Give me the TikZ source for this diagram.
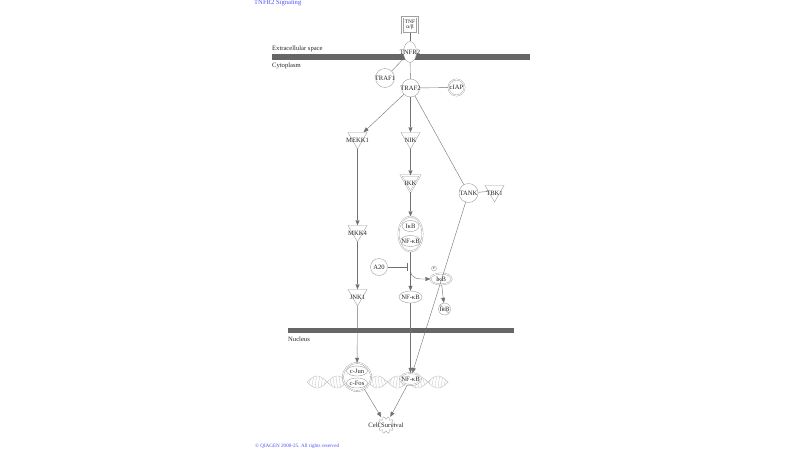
\documentclass[tikz,border=0pt]{standalone}
\usepackage{fontspec}
\setmainfont{Liberation Serif}
\usepackage{xcolor}
\usepackage{tikz}
\usetikzlibrary{shapes,arrows,positioning,calc,arrows.meta}

\definecolor{membgray}{HTML}{666666}
\definecolor{linegray}{HTML}{707070}
\definecolor{molgray}{HTML}{A0A0A0}
\definecolor{dnagray}{HTML}{BDBDBD}
\definecolor{qblue}{HTML}{5050FF}

\begin{document}
\begin{tikzpicture}[x=1pt,y=-1pt,
    txt/.style={font=\fontsize{6.6}{7}\selectfont, text=black!85, inner sep=0pt, align=center},
    lbl/.style={label={[txt]center:#1}},
    trilbl/.style={label={[txt, yshift=-2.5pt]center:#1}},
    circ/.style={circle, draw=molgray, fill=white, inner sep=0pt, minimum size=#1},
    circ/.default=18pt,
    dcirc/.style={circ=#1, double=white, double distance=0.8pt},
    dcirc/.default=16pt,
    oval/.style n args={2}{ellipse, draw=molgray, fill=white, inner sep=0pt, minimum width=#1, minimum height=#2},
    tri/.style={regular polygon, regular polygon sides=3, shape border rotate=180, draw=molgray, fill=white, inner sep=0pt, minimum size=22pt},
    act/.style={draw=linegray, -{Triangle[length=5pt,width=4pt]}},
    bind/.style={draw=linegray},
    inh/.style={draw=linegray, -{Bar[width=8pt]}},
    memb/.style={fill=membgray, draw=none}]

    \useasboundingbox (0,0) rectangle (800,450);

    % title and membranes
    \node[txt, text=qblue, anchor=north west] (title) at (254,0) {TNFR2 Signaling};
    \fill[memb] (272,54) rectangle (530,59.5);
    \node[txt, anchor=base west] (extra) at (272,50.5) {Extracellular space};
    \node[txt, anchor=base west] (cyto) at (272,67) {Cytoplasm};
    \fill[memb] (288,327.5) rectangle (514,333);
    \node[txt, anchor=base west] (nucl) at (288,341) {Nucleus};

    % DNA strand
    \draw[dnagray, line width=0.4pt] plot[domain=307:448, samples=120] (\x, {382+6*sin(8.935*(\x-307))});
    \draw[dnagray, line width=0.4pt] plot[domain=307:448, samples=120] (\x, {382-6*sin(8.935*(\x-307))});
    \foreach \h in {309,312,...,447}
        \draw[dnagray, line width=0.3pt] (\h, {382+5.5*sin(8.935*(\h-307))}) -- (\h+1.5, {382-5.5*sin(8.935*(\h+1.5-307))});

    % receptor
    \node[rectangle, draw=molgray, line width=0.6pt, fill=white, double=white, double distance=1pt, minimum width=15pt, minimum height=16pt, inner sep=0pt,
          label={[txt, font=\fontsize{5.5}{5.5}\selectfont]center:TNF\\[-0.5pt]α/β}] (tnf) at (410,25) {};
    \node[oval={13pt}{21pt}, lbl=TNFR2] (tnfr2) at (410,52) {};
    \draw[bind] (tnf) -- (tnfr2);

    % adaptors
    \node[circ=19pt, lbl=TRAF1] (traf1) at (385,78) {};
    \node[circ, lbl=TRAF2] (traf2) at (410.5,88) {};
    \node[dcirc, lbl=cIAP] (ciap) at (456.5,87.5) {};
    \draw[bind] (tnfr2) -- (traf1);
    \draw[bind] (tnfr2) -- (traf2);
    \draw[bind] (traf2) -- (ciap);

    % kinases
    \node[tri, trilbl=MEKK1] (mekk1) at (357.5,138) {};
    \node[tri, trilbl=NIK] (nik) at (410.5,138) {};
    \node[tri, double=white, double distance=0.8pt, trilbl=IKK] (ikk) at (410.5,181) {};
    \node[circ=19pt, lbl=TANK] (tank) at (468.5,193) {};
    \node[tri, trilbl=TBK1] (tbk1) at (494.5,191) {};
    \draw[act] (traf2) -- (mekk1);
    \draw[act] (traf2) -- (nik);
    \draw[act] (nik) -- (ikk);
    \draw[bind] (traf2) -- (tank);
    \draw[bind] (tank) -- (tbk1);

    % JNK branch
    \node[tri, trilbl=MKK4] (mkk4) at (357.5,231) {};
    \node[tri, trilbl=JNK1] (jnk1) at (357.5,295) {};
    \draw[act] (mekk1) -- (mkk4);
    \draw[act] (mkk4) -- (jnk1);

    % IkB / NF-kB
    \node[oval={24pt}{35pt}, double=white, double distance=0.8pt] (cplx) at (410.5,234) {};
    \node[oval={17pt}{11pt}, lbl=IκB] (ikb1) at (410.5,226) {};
    \node[oval={20pt}{11pt}, lbl=NF-κB] (nfkb1) at (410.5,241) {};
    \draw[act] (ikk) -- (cplx);
    \node[circ=17pt, lbl=A20] (a20) at (379,267) {};
    \node[oval={23pt}{12pt}, lbl=NF-κB] (nfkbc) at (410.5,297) {};
    \node[oval={21pt}{11pt}, double=white, double distance=0.8pt, lbl=IκB] (ikb2) at (441,279) {};
    \node[circ=5pt, font=\fontsize{3}{3}\selectfont] (phos) at (434,268.5) {P};
    \node[circ=12pt, lbl=IκB] (ikbdeg) at (444.5,309) {};
    \draw[molgray] (ikbdeg.north west) -- (ikbdeg.south east);
    \draw[act] (cplx) -- (nfkbc);
    \draw[inh, shorten >=3pt] (a20) -- (a20 -| cplx.south);
    \draw[act] ($(a20 -| cplx.south)+(0,3)$) .. controls +(0,10) and +(-10,0) .. (ikb2.west);
    \draw[act] (ikb2) -- (ikbdeg);

    % nucleus
    \node[oval={28pt}{28pt}, double=white, double distance=0.8pt] (ap1) at (357,377) {};
    \node[oval={21pt}{10pt}, lbl=c-Jun] (cjun) at (357,371) {};
    \node[oval={21pt}{10pt}, lbl=c-Fos] (cfos) at (357,383) {};
    \node[oval={21pt}{12pt}, double=white, double distance=0.8pt, lbl=NF-κB] (nfkbn) at (410.5,379) {};
    \draw[act] (jnk1) -- (ap1);
    \draw[act] (nfkbc) -- (nfkbn);
    \draw[act] (tank) -- (nfkbn);

    % outcome
    \coordinate (gear) at (386,425);
    \draw[molgray, line width=0.4pt, shift={(gear)}] plot[domain=0:360, samples=121] (\x:{7.2+1.3*cos(10*\x)});
    \node[circle, minimum size=18pt, inner sep=0pt, lbl=Cell Survival] (cell) at (gear) {};
    \draw[act] (ap1) -- (cell);
    \draw[act] (nfkbn) -- (cell);

    \node[txt, text=qblue, font=\fontsize{5.1}{5.1}\selectfont, anchor=base west] (copy) at (255,447.5) {© QIAGEN 2000-25. All rights reserved};
\end{tikzpicture}
\end{document}
